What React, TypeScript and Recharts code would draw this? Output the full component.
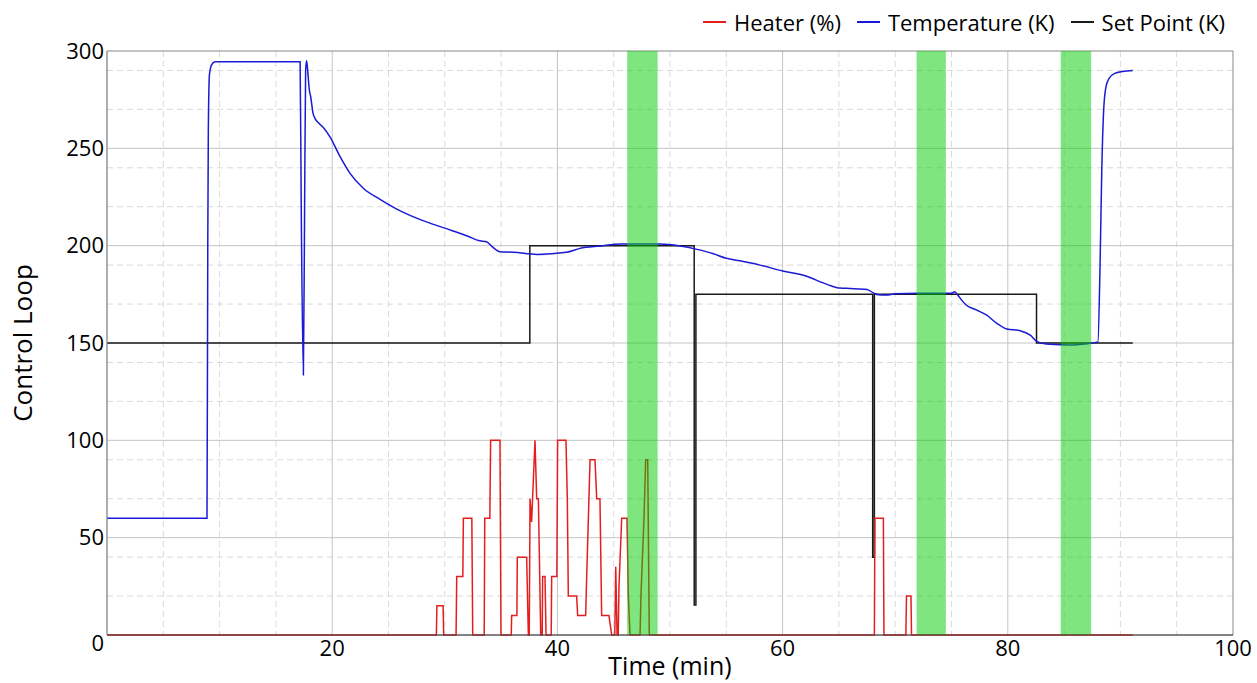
import {
  LineChart,
  Line,
  XAxis,
  YAxis,
  CartesianGrid,
  ReferenceArea,
  Legend,
} from 'recharts';

const FONT = '"Open Sans", sans-serif';

// time (min), value
const heater: [number, number][] = [
  [0, 0], [29.25, 0], [29.3, 15], [29.85, 15], [29.9, 0],
  [31.0, 0], [31.06, 30], [31.6, 30], [31.65, 60], [32.4, 60], [32.48, 0],
  [33.5, 0], [33.55, 60], [34.0, 60], [34.07, 100], [34.9, 100], [34.99, 0],
  [35.9, 0], [35.94, 10], [36.4, 10], [36.44, 40], [37.27, 40], [37.42, 0],
  [37.5, 0], [37.57, 70], [37.71, 58], [38.01, 100], [38.16, 70], [38.31, 70], [38.52, 0],
  [38.65, 0], [38.69, 30], [38.9, 30], [38.99, 0],
  [39.45, 0], [39.49, 30], [39.95, 30], [40.02, 100], [40.76, 100], [40.88, 70], [40.97, 20],
  [41.71, 20], [41.8, 10], [42.51, 10], [42.6, 30], [42.9, 90], [43.34, 90], [43.49, 70],
  [43.78, 70], [43.93, 10], [44.58, 10], [44.82, 0],
  [45.1, 0], [45.18, 35], [45.3, 0], [45.4, 0], [45.47, 25], [45.71, 60], [46.18, 60],
  [46.3, 20], [46.45, 0],
  [47.34, 0], [47.42, 20], [47.69, 60], [47.84, 90], [48.02, 90], [48.16, 0],
  [68.15, 0], [68.2, 60], [68.95, 60], [69.0, 0],
  [70.95, 0], [71.0, 20], [71.4, 20], [71.45, 0], [91.1, 0],
];

const temperature: [number, number][] = [
  [0, 60], [8.88, 60], [8.95, 200], [9.0, 260], [9.1, 288], [9.3, 293], [9.6, 294.5],
  [17.15, 294.5], [17.25, 220], [17.44, 133.5], [17.55, 220], [17.64, 290], [17.73, 295],
  [17.85, 288], [17.97, 280], [18.09, 276.5], [18.3, 268], [18.47, 265.4], [18.8, 263],
  [19.21, 260.7], [19.8, 255.9], [20.7, 245.7], [21.6, 237], [22.76, 229.5], [24.25, 223.8],
  [26, 218], [28, 213], [30, 209], [32, 205], [33.1, 202.5], [33.7, 202], [34.2, 199.5],
  [34.9, 196.9], [36.1, 196.6], [38.2, 195.5], [40.8, 196.6], [42, 198.6], [43.8, 199.8],
  [45.6, 200.8], [49.1, 200.8], [50.9, 199.8], [52.4, 198.1], [53.8, 196], [55, 193.5],
  [56.2, 192.2], [58, 190], [60, 187], [62, 184.5], [64, 180], [65.1, 178.2], [66, 178],
  [67.5, 177.5], [68.1, 175.6], [68.5, 174.8], [69.2, 174.6], [70, 175.3], [72, 175.6],
  [75, 175.6], [75.3, 176.3], [75.5, 175], [76.3, 169.5], [77.2, 167], [78.1, 164.4],
  [79, 160.2], [79.9, 157.2], [81.1, 156.3], [82, 154], [82.6, 150.7], [83.4, 149.5],
  [85.8, 149], [87.6, 150.1], [88, 150.5], [88.2, 192], [88.35, 240], [88.5, 268],
  [88.7, 281], [89, 286], [89.5, 288.5], [90.2, 289.5], [91.1, 290],
];

const setPoint: [number, number][] = [
  [0, 150], [37.55, 150], [37.55, 200], [52.15, 200], [52.15, 15.4], [52.3, 15.4],
  [52.3, 175], [68.0, 175], [68.0, 40], [68.15, 40], [68.15, 175], [82.55, 175],
  [82.55, 150], [91.1, 150],
];

// shaded measurement windows (min)
const bands: [number, number][] = [
  [46.2, 48.9],
  [71.9, 74.5],
  [84.7, 87.4],
];

const xTicks = [20, 40, 60, 80, 100];
const yTicks = [0, 50, 100, 150, 200, 250, 300];
const xMajor = [20, 40, 60, 80];
const yMajor = [50, 100, 150, 200, 250];
const xMinor = [5, 10, 15, 25, 30, 35, 45, 50, 55, 65, 70, 75, 85, 90, 95];
const yMinor = [10, 20, 30, 40, 60, 70, 80, 90, 110, 120, 130, 140, 160, 170, 180, 190, 210, 220, 230, 240, 260, 270, 280, 290];

const legendItems = [
  { label: 'Heater (%)', color: '#e41e1e' },
  { label: 'Temperature (K)', color: '#1a1ad6' },
  { label: 'Set Point (K)', color: '#1a1a1a' },
];

const toRows = (pts: [number, number][]) => pts.map(([x, v]) => ({ x, v }));

const YTick = (props: any) => {
  const { x, y, payload } = props;
  return (
    <text
      x={x}
      y={y + (payload.value === 0 ? 8 : 0)}
      dy="0.355em"
      textAnchor="end"
      fontSize={22}
      fontFamily={FONT}
      fill="#000"
    >
      {payload.value}
    </text>
  );
};

const LegendContent = () => (
  <div
    style={{
      display: 'flex',
      alignItems: 'center',
      fontFamily: FONT,
      fontSize: 22,
      color: '#000',
      whiteSpace: 'nowrap',
    }}
  >
    {legendItems.map((item) => (
      <span key={item.label} style={{ display: 'flex', alignItems: 'center', marginRight: 16 }}>
        <span
          style={{ display: 'inline-block', width: 23, height: 2, background: item.color, marginRight: 8 }}
        />
        {item.label}
      </span>
    ))}
  </div>
);

export default function App() {
  return (
    <div style={{ position: 'absolute', left: 0, top: 0, width: 1257, height: 683, background: '#fff' }}>
      <LineChart width={1257} height={683} margin={{ top: 51, right: 24, left: 0, bottom: 0 }}>
        <CartesianGrid
          stroke="#dadada"
          strokeDasharray="6 4"
          verticalValues={xMinor}
          horizontalValues={yMinor}
        />
        <CartesianGrid stroke="#c4c4c4" verticalValues={xMajor} horizontalValues={yMajor} />
        <XAxis
          dataKey="x"
          type="number"
          domain={[0, 100]}
          ticks={xTicks}
          allowDuplicatedCategory={false}
          height={48}
          tickSize={0}
          tickMargin={5}
          tick={{ fontSize: 22, fontFamily: FONT, fill: '#000' }}
          axisLine={{ stroke: '#444' }}
          label={{
            value: 'Time (min)',
            position: 'insideBottom',
            offset: 8,
            style: { fontSize: 25, fontFamily: FONT, fill: '#000' },
          }}
        />
        <YAxis
          type="number"
          domain={[0, 300]}
          ticks={yTicks}
          width={107}
          tickSize={0}
          tickMargin={3}
          tick={YTick}
          axisLine={{ stroke: '#999' }}
          label={{
            value: 'Control Loop',
            angle: -90,
            position: 'insideLeft',
            offset: 23,
            style: { fontSize: 26, fontFamily: FONT, fill: '#000', textAnchor: 'middle' },
          }}
        />
        <ReferenceArea x1={0} x2={100} y1={0} y2={300} fill="none" stroke="#888" strokeWidth={1} />
        <Line
          data={toRows(setPoint)}
          dataKey="v"
          type="linear"
          stroke="#1a1a1a"
          strokeWidth={1.5}
          dot={false}
          isAnimationActive={false}
          name="Set Point (K)"
        />
        <Line
          data={toRows(temperature)}
          dataKey="v"
          type="monotone"
          stroke="#1a1ad6"
          strokeWidth={1.5}
          dot={false}
          isAnimationActive={false}
          name="Temperature (K)"
        />
        <Line
          data={toRows(heater)}
          dataKey="v"
          type="linear"
          stroke="#e41e1e"
          strokeWidth={1.5}
          dot={false}
          isAnimationActive={false}
          name="Heater (%)"
        />
        {bands.map(([a, b]) => (
          <ReferenceArea
            key={a}
            x1={a}
            x2={b}
            y1={0}
            y2={300}
            fill="#00cc00"
            fillOpacity={0.5}
            stroke="none"
            zIndex={450}
          />
        ))}
        <Legend
          verticalAlign="middle"
          layout="horizontal"
          content={LegendContent}
          wrapperStyle={{ top: 7, left: 703, width: 'auto', height: 30 }}
        />
      </LineChart>
    </div>
  );
}
